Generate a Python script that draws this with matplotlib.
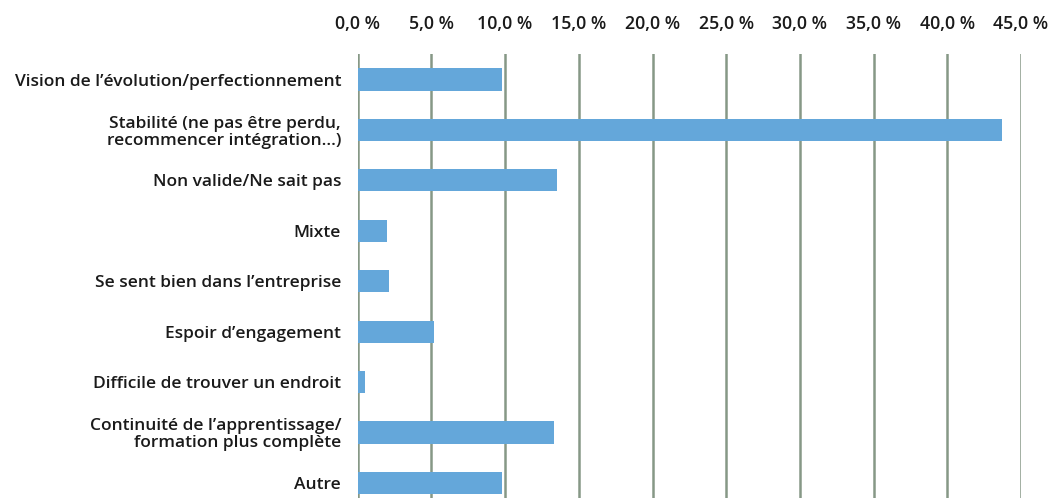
import matplotlib
matplotlib.use("Agg")
import matplotlib.pyplot as plt
from matplotlib.ticker import FuncFormatter

categories = [
    "Vision de l’évolution/perfectionnement",
    "Stabilité (ne pas être perdu,\nrecommencer intégration…)",
    "Non valide/Ne sait pas",
    "Mixte",
    "Se sent bien dans l’entreprise",
    "Espoir d’engagement",
    "Difficile de trouver un endroit",
    "Continuité de l’apprentissage/\nformation plus complète",
    "Autre",
]
values = [9.8, 43.7, 13.5, 2.0, 2.1, 5.2, 0.5, 13.3, 9.8]
xticks = [0, 5, 10, 15, 20, 25, 30, 35, 40, 45]

plt.rcParams['font.family'] = ['Open Sans', 'DejaVu Sans']

W, H = 1051, 498
fig = plt.figure(figsize=(W / 100, H / 100), dpi=100)
left = 357.7 / W
right = 1021.0 / W
top = 1 - 54.3 / H
ax = fig.add_axes([left, 0.0, right - left, top])

ypos = list(range(len(categories)))
ax.barh(ypos, values, height=0.44, color="#64a7da", zorder=3)

ax.set_xlim(0, 45)
ax.set_ylim(8.30, -0.5)
ax.set_xticks(xticks)
ax.xaxis.set_major_formatter(FuncFormatter(lambda v, p: f"{v:.1f}".replace(".", ",") + " %"))
ax.xaxis.tick_top()
ax.tick_params(axis="x", length=0, pad=15, labelsize=12.8, labelcolor="#1a1a1a")
ax.set_yticks(ypos)
ax.set_yticklabels(categories, fontsize=12.5, color="#1a1a1a", fontweight="semibold")
for lbl in ax.get_xticklabels():
    lbl.set_fontweight("semibold")
for lbl in ax.get_yticklabels():
    lbl.set_multialignment("right")
    lbl.set_linespacing(1.05)
ax.tick_params(axis="y", length=0, pad=12)

ax.grid(axis="x", color="#869886", linewidth=1.8, zorder=0)
ax.grid(axis="y", visible=False)
for s in ax.spines.values():
    s.set_visible(False)

fig.savefig("out.png", dpi=100)
